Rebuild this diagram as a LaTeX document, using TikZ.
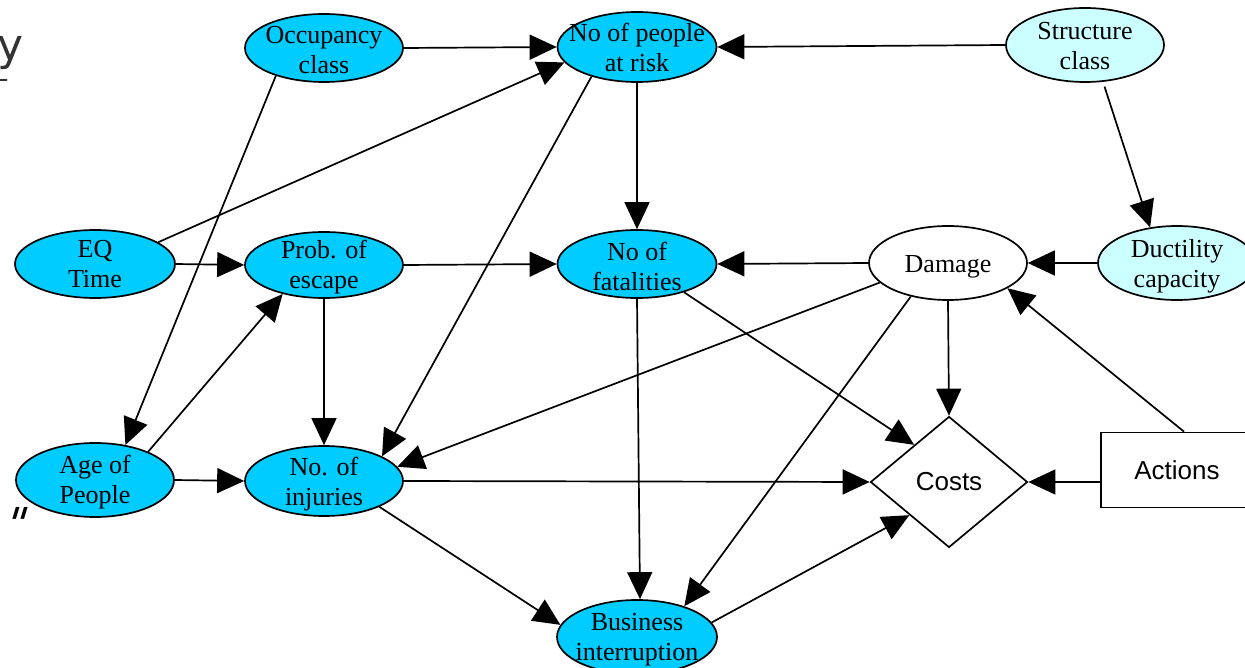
\documentclass[tikz,border=0pt]{standalone}
\usepackage{fontspec}
\setmainfont{Liberation Serif}
\setsansfont{Liberation Sans}
\newfontfamily\slidefont{DejaVu Sans}
\newfontfamily\slideslant{DejaVu Sans}[FakeSlant=0.3]
\usetikzlibrary{shapes.geometric,arrows.meta,calc}

\definecolor{nodecyan}{HTML}{00CCFF}
\definecolor{paleblue}{HTML}{CCFFFF}
\definecolor{slidegray}{HTML}{333333}

\begin{document}
\begin{tikzpicture}[x=1pt,y=-1pt,
  line width=1.7pt,
  >={Triangle[length=27pt,width=25pt]},
  chance/.style={ellipse,draw,fill=nodecyan,inner sep=0pt},
  chancelight/.style={chance,fill=paleblue},
  chanceplain/.style={chance,fill=white},
  caption/.style={inner sep=0pt,align=center,
    font=\fontsize{26}{30}\selectfont},
  utility/.style={diamond,draw,fill=white,inner sep=0pt,aspect=1.2,
    minimum width=157pt,minimum height=131pt,
    font=\sffamily\fontsize{26}{30}\selectfont},
  decision/.style={rectangle,draw,fill=white,inner sep=0pt,
    minimum width=152pt,minimum height=75pt,
    font=\sffamily\fontsize{26}{30}\selectfont},
  link/.style={->},
  slidetext/.style={inner sep=0pt,text=slidegray,
    font=\slidefont\fontsize{44}{50}\selectfont}]

\useasboundingbox (0,0) rectangle (1245,668);
\clip (0,0) rectangle (1245,668);
\fill[white] (0,0) rectangle (1245,668);

% fragments of the surrounding slide text
\node[slidetext,anchor=base west] (sy) at (-3,61) {y};
\begin{scope}
  \clip (0,60) rectangle (20,81);
  \node[slidetext,anchor=base west] (st) at (-9,104) {t};
\end{scope}
\node[slidetext,anchor=base west,text=black,font=\slideslant\fontsize{44}{50}\selectfont]
  (sq) at (2,539) {"};

% chance nodes
\node[chance,minimum width=158pt,minimum height=68pt] (occ) at (324,48) {};
\node[chance,minimum width=159pt,minimum height=70pt] (risk) at (637,47) {};
\node[chancelight,minimum width=158pt,minimum height=74pt] (str) at (1085,45) {};
\node[chance,minimum width=160pt,minimum height=68pt] (eq) at (95,264) {};
\node[chance,minimum width=158pt,minimum height=66pt] (esc) at (324,265) {};
\node[chance,minimum width=159pt,minimum height=68pt] (fat) at (637,264) {};
\node[chanceplain,minimum width=158pt,minimum height=74pt] (dam) at (948,263) {};
\node[chancelight,minimum width=158pt,minimum height=74pt] (duct) at (1177,263) {};
\node[chance,minimum width=158pt,minimum height=74pt] (age) at (95,480) {};
\node[chance,minimum width=158pt,minimum height=70pt] (inj) at (324,481) {};
\node[chance,minimum width=160pt,minimum height=74pt] (bus) at (637,637) {};

% captions (a positive yshift moves a caption up)
\node[caption] (occ-t) at ([yshift=-2pt]occ) {Occupancy\\class};
\node[caption] (risk-t) at ([yshift=0pt]risk) {No of people\\at risk};
\node[caption] (str-t) at ([yshift=-1pt]str) {Structure\\class};
\node[caption] (eq-t) at (eq) {EQ\\Time};
\node[caption] (esc-t) at ([yshift=-2pt]esc) {Prob. of\\escape};
\node[caption] (fat-t) at ([yshift=-2pt]fat) {No of\\fatalities};
\node[caption] (dam-t) at ([yshift=-4pt]dam) {Damage};
\node[caption] (duct-t) at ([yshift=-3pt]duct) {Ductility\\capacity};
\node[caption] (age-t) at ([yshift=-2pt]age) {Age of\\People};
\node[caption] (inj-t) at ([yshift=-3pt]inj) {No. of\\injuries};
\node[caption] (bus-t) at ([yshift=-3pt]bus) {Business\\interruption};

% utility and decision nodes
\node[utility] (cost) at (949,482) {Costs};
\node[decision] (act) at (1177,470) {Actions};

% influences
\draw[link] (occ.east) -- (risk.west);
\draw[link] (str.west) -- (risk.east);
\draw[link] (eq.19) -- (risk.-168);
\draw[link] (occ.210) -- (age.49);
\draw[link] (risk.south) -- (fat.north);
\draw[link] (risk.213) -- (inj.23);
\draw[link,shorten <=5pt] (str.-64) -- (duct.127);
\draw[link] (eq.east) -- (esc.west);
\draw[link] (esc.east) -- (fat.west);
\draw[link] (dam.west) -- (fat.east);
\draw[link] (duct.west) -- (dam.east);
\draw[link] (age.28) -- (esc.215);
\draw[link] (age.east) -- (inj.west);
\draw[link] (esc.south) -- (inj.north);
\draw[link] (fat.-31) -- ($(cost.west)!0.56!(cost.north)$);
\draw[link] (fat.south) -- ([xshift=3pt]bus.north);
\draw[link] (dam.196) -- (inj.11);
\draw[link] (dam.222) -- (bus.33);
\draw[link] (dam.south) -- (cost.north);
\draw[link] ([xshift=7pt]act.north) -- (dam.-23);
\draw[link] (act.west |- cost.east) -- (cost.east);
\draw[link] (inj.east) -- (cost.west);
\draw[link] (inj.-25) -- (bus.171);
\draw[link] (bus.11) -- ($(cost.west)!0.5!(cost.south)$);

\end{tikzpicture}
\end{document}
